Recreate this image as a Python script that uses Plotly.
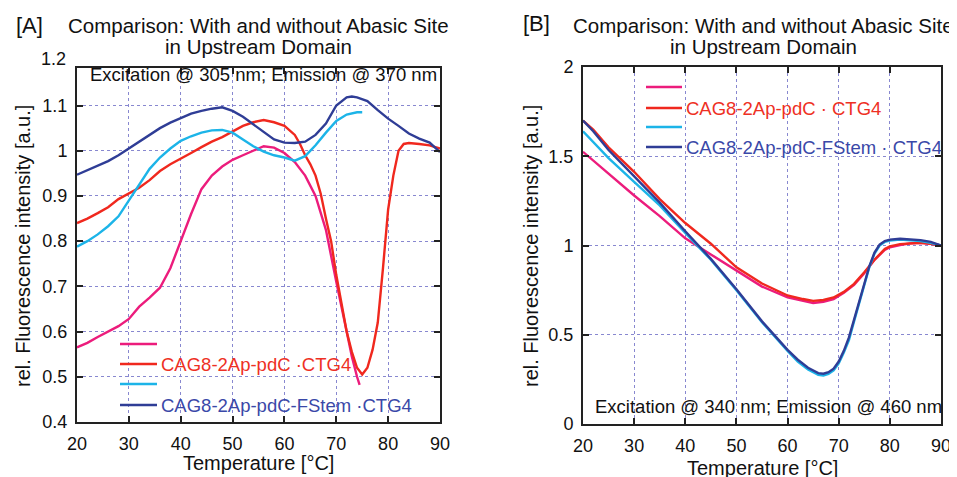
import plotly.graph_objects as go

# ---------------- data: panel A (Excitation 305 nm / Emission 370 nm) ----------------
a_pink_T = [20, 22, 24, 26, 28, 30, 32, 34, 36, 38, 40, 42, 44, 46, 48, 50, 52, 54, 56, 58,
            60, 62, 64, 66, 68, 70, 72, 73, 74, 74.5]
a_pink_v = [0.565, 0.575, 0.588, 0.6, 0.612, 0.628, 0.655, 0.675, 0.697, 0.74, 0.8, 0.86, 0.915,
            0.945, 0.965, 0.98, 0.99, 1.0, 1.01, 1.007, 0.995, 0.975, 0.945, 0.9, 0.825, 0.71,
            0.595, 0.545, 0.5, 0.482]

a_red_T = [20, 22, 24, 26, 28, 30, 32, 34, 36, 38, 40, 42, 44, 46, 48, 50, 52, 54, 56, 58, 60,
           62, 63, 64, 65, 66, 67, 68, 69, 70, 71, 72, 73, 74, 75, 76, 77, 78, 79, 80, 81, 82,
           83, 84, 86, 88, 90]
a_red_v = [0.84, 0.85, 0.862, 0.875, 0.893, 0.905, 0.918, 0.935, 0.955, 0.97, 0.982, 0.995,
           1.008, 1.02, 1.03, 1.042, 1.055, 1.063, 1.068, 1.063, 1.055, 1.035, 1.015, 0.99,
           0.97, 0.945, 0.905, 0.85, 0.8, 0.725, 0.66, 0.6, 0.555, 0.52, 0.505, 0.52, 0.56,
           0.62, 0.74, 0.87, 0.945, 1.0, 1.015, 1.017, 1.015, 1.012, 1.005]

a_cyan_T = [20, 22, 24, 26, 28, 30, 32, 34, 36, 38, 40, 42, 44, 46, 48, 50, 52, 54, 56, 58, 60,
            62, 64, 66, 68, 70, 72, 74, 75]
a_cyan_v = [0.788, 0.8, 0.815, 0.833, 0.855, 0.89, 0.925, 0.96, 0.985, 1.005, 1.022, 1.032,
            1.04, 1.045, 1.046, 1.04, 1.025, 1.01, 0.998, 0.99, 0.985, 0.978, 0.988, 1.012,
            1.04, 1.066, 1.08, 1.085, 1.085]

a_navy_T = [20, 22, 24, 26, 28, 30, 32, 34, 36, 38, 40, 42, 44, 46, 48, 50, 52, 54, 56, 58, 60,
            62, 64, 66, 68, 70, 72, 73, 74, 76, 78, 80, 82, 84, 86, 88, 90]
a_navy_v = [0.947, 0.957, 0.967, 0.977, 0.99, 1.005, 1.02, 1.035, 1.05, 1.062, 1.072, 1.082,
            1.088, 1.093, 1.096, 1.088, 1.075, 1.058, 1.04, 1.025, 1.018, 1.017, 1.02, 1.035,
            1.06, 1.1, 1.118, 1.12, 1.118, 1.11, 1.09, 1.071, 1.055, 1.038, 1.027, 1.018, 0.997]

# ---------------- data: panel B (Excitation 340 nm / Emission 460 nm) ----------------
b_T1 = [20, 22, 25, 30, 35, 40, 45, 50, 55, 60, 63, 65, 67, 69, 71, 73, 75, 77, 79, 80, 82, 84,
        86, 88, 90]
b_red_v = [1.70, 1.65, 1.55, 1.413, 1.26, 1.126, 1.01, 0.878, 0.787, 0.72, 0.70, 0.69, 0.695,
           0.709, 0.74, 0.785, 0.85, 0.92, 0.98, 0.995, 1.008, 1.013, 1.015, 1.01, 1.0]
b_pink_v = [1.525, 1.475, 1.40, 1.28, 1.165, 1.04, 0.95, 0.86, 0.77, 0.71, 0.69, 0.678, 0.685,
            0.70, 0.735, 0.78, 0.845, 0.92, 0.975, 0.99, 1.003, 1.012, 1.015, 1.01, 1.0]

b_T2 = [20, 22, 25, 30, 35, 40, 45, 50, 55, 60, 62, 64, 65, 66, 67, 68, 69, 70, 71, 72, 73, 74,
        75, 76, 77, 78, 79, 80, 82, 84, 86, 88, 90]
b_cyan_v = [1.64, 1.58, 1.49, 1.357, 1.225, 1.07, 0.92, 0.75, 0.57, 0.41, 0.35, 0.305, 0.29,
            0.275, 0.272, 0.28, 0.30, 0.34, 0.40, 0.47, 0.575, 0.68, 0.78, 0.88, 0.955, 1.0,
            1.02, 1.028, 1.033, 1.03, 1.025, 1.015, 1.0]
b_navy_v = [1.70, 1.64, 1.535, 1.385, 1.24, 1.08, 0.925, 0.755, 0.575, 0.415, 0.36, 0.315,
            0.298, 0.285, 0.282, 0.29, 0.31, 0.35, 0.41, 0.485, 0.585, 0.69, 0.79, 0.885, 0.96,
            1.005, 1.025, 1.033, 1.038, 1.035, 1.03, 1.02, 1.0]

legend_names = ["", "CAG8-2Ap-pdC ·CTG4", "", "CAG8-2Ap-pdC-FStem ·CTG4"]
legend_names_b = ["", "CAG8-2Ap-pdC · CTG4", "", "CAG8-2Ap-pdC-FStem · CTG4"]
x_ticks = [20, 30, 40, 50, 60, 70, 80, 90]

# ---------------- styling ----------------
PINK, RED, CYAN, NAVY = "#ec1c7c", "#f0281e", "#1cb4e8", "#2f3d96"
TXT_RED, TXT_NAVY = "#ee3024", "#3a48a8"
FONT = "Liberation Sans, Arial, sans-serif"
OFF = 8                      # default page margin around the plot div
W, H = 957 - OFF, 477 - OFF
LW = 2.4


def fx(x):
    return (x - OFF) / W


def fy(y):
    return 1 - (y - OFF) / H


fig = go.Figure()

for T, v, c in [(a_pink_T, a_pink_v, PINK), (a_red_T, a_red_v, RED),
                (a_cyan_T, a_cyan_v, CYAN), (a_navy_T, a_navy_v, NAVY)]:
    fig.add_trace(go.Scatter(x=T, y=v, mode="lines", line=dict(color=c, width=LW),
                             xaxis="x", yaxis="y", showlegend=False))

for T, v, c in [(b_T1, b_pink_v, PINK), (b_T1, b_red_v, RED),
                (b_T2, b_cyan_v, CYAN), (b_T2, b_navy_v, NAVY)]:
    fig.add_trace(go.Scatter(x=T, y=v, mode="lines", line=dict(color=c, width=LW),
                             xaxis="x2", yaxis="y2", showlegend=False))

axis_common = dict(showline=True, linecolor="#222", linewidth=2, mirror="ticks",
                   ticks="inside", ticklen=6, tickwidth=1.5, tickcolor="#222",
                   showgrid=True, gridcolor="#8888d0", gridwidth=1, griddash="dot",
                   zeroline=False, automargin=False,
                   tickfont=dict(family=FONT, size=18, color="#111"))

fig.update_layout(
    width=W, height=H,
    margin=dict(l=0, r=0, t=0, b=0),
    paper_bgcolor="white", plot_bgcolor="white",
    font=dict(family=FONT, color="#111"),
    showlegend=False,
    xaxis=dict(domain=[fx(77), fx(440)], range=[20, 90], tickvals=x_ticks, anchor="y",
               ticklabelstandoff=4, **axis_common),
    yaxis=dict(domain=[fy(422), fy(68)], range=[0.4, 1.183], tick0=0.4, dtick=0.1, anchor="x",
               ticklabelstandoff=4, **axis_common),
    xaxis2=dict(domain=[fx(583), fx(941)], range=[20, 90], tickvals=x_ticks, anchor="y2",
                ticklabelstandoff=4, **axis_common),
    yaxis2=dict(domain=[fy(424), fy(67)], range=[0, 2], tick0=0, dtick=0.5, anchor="x2",
                ticklabelstandoff=4, **axis_common),
)

ann = []


def text(x, y, s, size, color="#111", xanchor="center", angle=0):
    ann.append(dict(x=fx(x), y=fy(y), xref="paper", yref="paper", text=s, showarrow=False,
                    xanchor=xanchor, yanchor="middle", textangle=angle,
                    font=dict(family=FONT, size=size, color=color)))


# panel labels and titles
text(29, 25, "[A]", 22)
text(536, 23, "[B]", 22)
for cx in (258, 763):
    text(cx, 25, "Comparison: With and without Abasic Site", 20.5)
    text(cx, 47, "in Upstream Domain", 20.5)

# top tick label of panel A
text(68, 59, "1.2", 18, xanchor="right")

# inner annotations
text(263, 75, "Excitation @ 305 nm; Emission @ 370 nm", 18.5)
text(768, 406, "Excitation @ 340 nm; Emission @ 460 nm", 18.5)

# axis titles
text(23, 246, "rel. Fluorescence intensity [a.u.]", 20, angle=-90)
text(531, 246, "rel. Fluorescence intensity [a.u.]", 20, angle=-90)
text(258, 463, "Temperature [°C]", 20)
text(762, 468, "Temperature [°C]", 20)

# legends (drawn as line samples + coloured text)
shapes = []
leg_colors = [PINK, RED, CYAN, NAVY]
txt_colors = [PINK, TXT_RED, CYAN, TXT_NAVY]
for (x0, x1, ys, names) in [(120, 157, [344, 364, 384, 405], legend_names),
                            (646, 682, [87, 108, 127, 147], legend_names_b)]:
    for y, c, tc, name in zip(ys, leg_colors, txt_colors, names):
        shapes.append(dict(type="line", xref="paper", yref="paper", x0=fx(x0), x1=fx(x1),
                           y0=fy(y), y1=fy(y), line=dict(color=c, width=LW)))
        if name:
            text(x1 + 2, y, name, 18.5, color=tc, xanchor="left")

fig.update_layout(annotations=ann, shapes=shapes)
fig.write_html("out.html")
